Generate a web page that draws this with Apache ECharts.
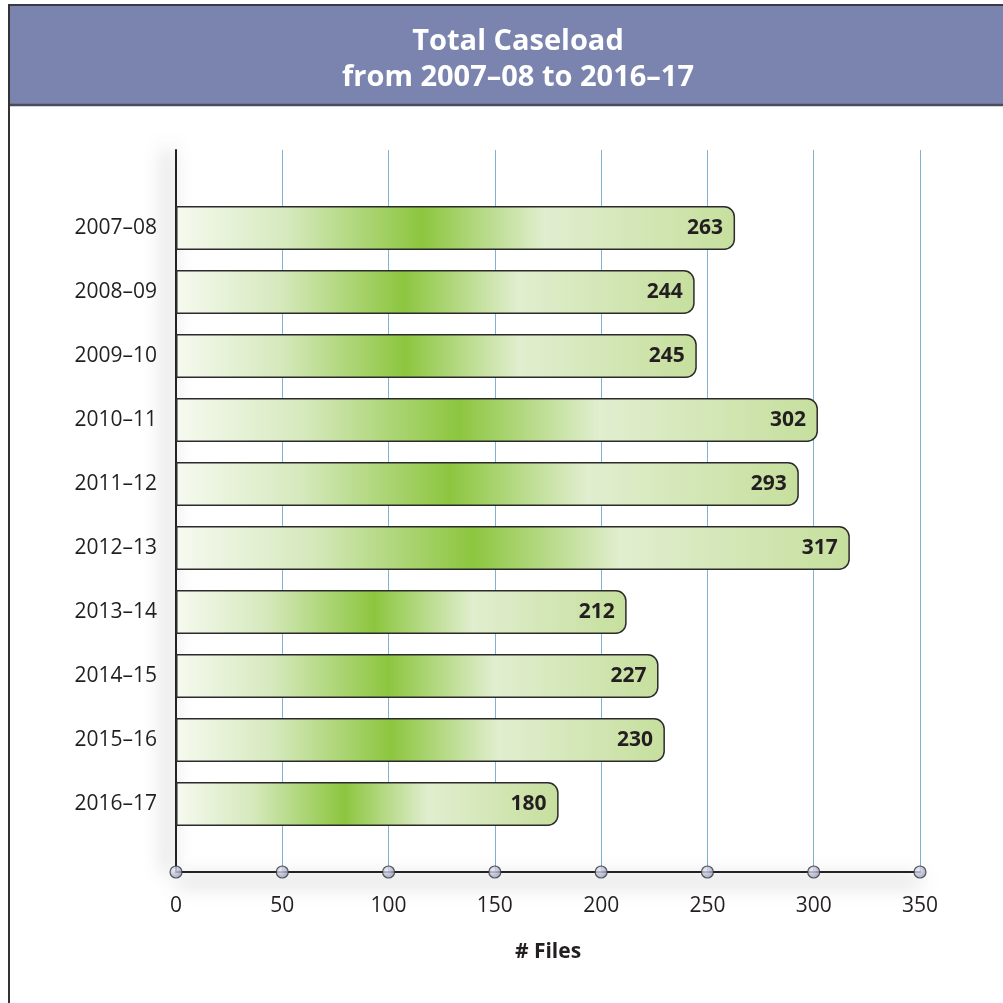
<!DOCTYPE html>
<html>
<head>
<meta charset="utf-8">
<script src="https://cdn.jsdelivr.net/npm/echarts@6/dist/echarts.min.js"></script>
<style>
    html, body { margin: 0; padding: 0; background: #fff; }
    #chart { width: 1003px; height: 1003px; }
</style>
</head>
<body>
<div id="chart"></div>
<script>
/* 数据 */
const titleLines = ['Total Caseload', 'from 2007–08 to 2016–17'];
const years = ['2007–08', '2008–09', '2009–10', '2010–11', '2011–12',
               '2012–13', '2013–14', '2014–15', '2015–16', '2016–17'];
const caseload = [263, 244, 245, 302, 293, 317, 212, 227, 230, 180];
const xTicks = [0, 50, 100, 150, 200, 250, 300, 350];
const xName = '# Files';

const FONT = '"Open Sans", "DejaVu Sans", sans-serif';
const TXT = '#231F20';

// 条形渐变: 左浅 -> 中部亮绿 -> 右侧浅绿
const barFill = new echarts.graphic.LinearGradient(0, 0, 1, 0, [
    { offset: 0, color: '#F6FAF0' },
    { offset: 0.2, color: '#D6E9BD' },
    { offset: 0.44, color: '#8CC63F' },
    { offset: 0.66, color: '#E1EECF' },
    { offset: 1, color: '#C6DF9D' }
]);

const dotFill = new echarts.graphic.RadialGradient(0.35, 0.35, 0.8, [
    { offset: 0, color: '#E6E8F4' },
    { offset: 1, color: '#8489B0' }
]);

const chart = echarts.init(document.getElementById('chart'));

const option = {
    animation: false,
    title: {
        text: titleLines.join('\n'),
        left: 513,
        top: 19,
        textAlign: 'center',
        textStyle: {
            color: '#fff',
            fontFamily: FONT,
            fontWeight: 'bold',
            fontSize: 29,
            lineHeight: 36
        }
    },
    graphic: [
        // 标题背景
        { type: 'rect', z: -10, shape: { x: 9, y: 5, width: 1000, height: 100 },
          style: { fill: '#7A84AE' } },
        { type: 'line', z: -9, shape: { x1: 9, y1: 5, x2: 1003, y2: 5 },
          style: { stroke: '#3a3a44', lineWidth: 2 } },
        { type: 'line', z: -9, shape: { x1: 9, y1: 105, x2: 1003, y2: 105 },
          style: { stroke: '#4a4b5c', lineWidth: 2.5 } },
        { type: 'line', z: -9, shape: { x1: 9, y1: 4, x2: 9, y2: 1003 },
          style: { stroke: '#333', lineWidth: 2 } }
    ],
    grid: [
        { left: 176, right: 83, top: 150, bottom: 131 },
        { left: 176, right: 83, top: 196, bottom: 167 }
    ],
    xAxis: [
        {
            gridIndex: 0,
            type: 'value',
            min: 0,
            max: 350,
            interval: 50,
            name: xName,
            nameLocation: 'middle',
            nameGap: 70,
            nameTextStyle: { fontFamily: FONT, fontWeight: 'bold', fontSize: 21, color: TXT },
            axisLine: {
                lineStyle: { color: '#222', width: 2,
                             shadowColor: 'rgba(0,0,0,0.75)', shadowBlur: 20, shadowOffsetY: 9 }
            },
            axisTick: { show: false },
            axisLabel: { fontFamily: FONT, fontSize: 21, color: TXT, margin: 24 },
            splitLine: { show: true, lineStyle: { color: '#7FB2D6', width: 1 } }
        },
        { gridIndex: 1, type: 'value', min: 0, max: 350, show: false }
    ],
    yAxis: [
        {
            gridIndex: 0,
            type: 'value',
            min: 0,
            max: 1,
            axisLine: {
                show: true,
                lineStyle: { color: '#222', width: 2,
                             shadowColor: 'rgba(0,0,0,0.75)', shadowBlur: 20, shadowOffsetX: -8 }
            },
            axisTick: { show: false },
            axisLabel: { show: false },
            splitLine: { show: false }
        },
        {
            gridIndex: 1,
            type: 'category',
            inverse: true,
            data: years,
            axisLine: { show: false },
            axisTick: { show: false },
            axisLabel: { fontFamily: FONT, fontSize: 21, color: TXT, margin: 19 }
        }
    ],
    series: [
        {
            type: 'bar',
            xAxisIndex: 1,
            yAxisIndex: 1,
            data: caseload,
            barWidth: 44,
            itemStyle: {
                color: barFill,
                borderColor: '#2b2b2b',
                borderWidth: 1.5,
                borderRadius: [0, 10, 10, 0]
            },
            label: {
                show: true,
                position: 'insideRight',
                distance: 12,
                fontFamily: FONT,
                fontWeight: 'bold',
                fontSize: 21,
                color: TXT
            },
            silent: true
        },
        {
            // 坐标轴刻度圆点
            type: 'scatter',
            xAxisIndex: 0,
            yAxisIndex: 0,
            data: xTicks.map(v => [v, 0]),
            symbolSize: 12,
            clip: false,
            z: 5,
            itemStyle: { color: dotFill, borderColor: '#333', borderWidth: 1.2 },
            silent: true
        }
    ]
};

chart.setOption(option);
</script>
</body>
</html>
